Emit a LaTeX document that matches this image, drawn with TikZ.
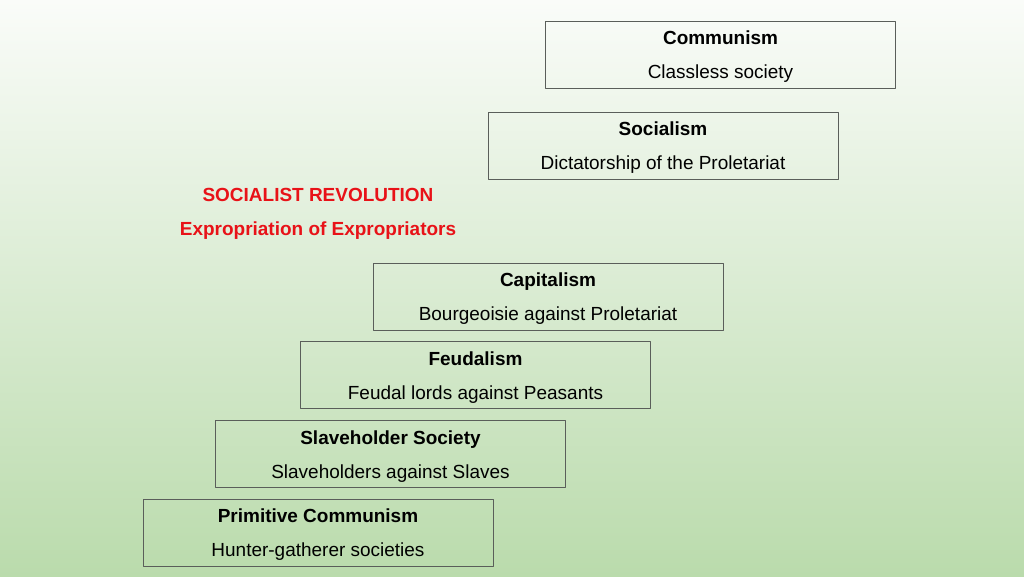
\documentclass[tikz,border=0pt]{standalone}
\usepackage{fontspec}
\setmainfont{Liberation Sans}
\usetikzlibrary{positioning}
\definecolor{bgtop}{RGB}{250,252,249}
\definecolor{bgbottom}{RGB}{186,219,172}
\definecolor{revred}{RGB}{232,18,24}
\definecolor{boxline}{RGB}{90,94,90}
\newcommand{\stagetext}[2]{\rule{0pt}{10.6pt}\textbf{#1}\\#2}
\tikzset{
  stage/.style={draw=boxline,line width=0.5pt,minimum width=350*0.02cm,minimum height=67*0.02cm,
    align=center,inner sep=0pt,font=\fontsize{10.8}{19.3}\selectfont},
  revtext/.style={text=revred,font=\fontsize{10.8}{13}\selectfont\bfseries}
}
\begin{document}
\begin{tikzpicture}[line cap=round,line join=round,x=0.02cm,y=-0.02cm]
\shade[top color=bgtop,bottom color=bgbottom] (0,0) rectangle (1024,576);
\useasboundingbox (0,0) rectangle (1024,576);
\node[stage] (communism) at (720.5,54.5) {\stagetext{Communism}{Classless society}};
\node[stage] (socialism) at (663,145.5) {\stagetext{Socialism}{Dictatorship of the Proletariat}};
\node[stage] (capitalism) at (548,296.5) {\stagetext{Capitalism}{Bourgeoisie against Proletariat}};
\node[stage] (feudalism) at (475.5,375) {\stagetext{Feudalism}{Feudal lords against Peasants}};
\node[stage] (slaveholder) at (390.5,454) {\stagetext{Slaveholder Society}{Slaveholders against Slaves}};
\node[stage] (primitive) at (318,532.5) {\stagetext{Primitive Communism}{Hunter-gatherer societies}};
\node[revtext] (revolution) at (318,195) {SOCIALIST REVOLUTION};
\node[revtext] (expropriation) at (318,231) {Expropriation of Expropriators};
\end{tikzpicture}
\end{document}
